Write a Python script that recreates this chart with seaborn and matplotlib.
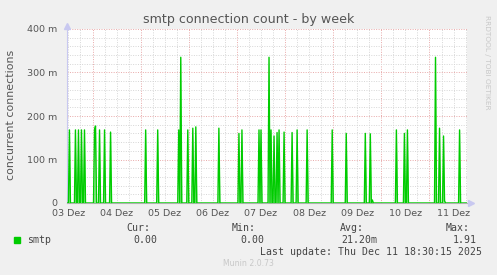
import numpy as np
import pandas as pd
import matplotlib
matplotlib.use("Agg")
import matplotlib.pyplot as plt
import matplotlib.dates as mdates
from matplotlib.ticker import MultipleLocator, FuncFormatter
import seaborn as sns

# ---------------- data ----------------
title = "smtp connection count - by week"
ylabel = "concurrent connections"
series_name = "smtp"
start_time = "2025-12-03 11:00"
end_time = "2025-12-11 18:30"
view_start = "2025-12-03 11:17"
view_end = "2025-12-11 18:42"

spike_times = [
    "2025-12-03 12:30", "2025-12-03 15:30", "2025-12-03 17:00", "2025-12-03 18:30",
    "2025-12-03 20:00", "2025-12-04 01:00", "2025-12-04 01:30", "2025-12-04 03:30",
    "2025-12-04 06:00", "2025-12-04 09:00", "2025-12-05 02:30", "2025-12-05 08:30",
    "2025-12-05 19:00", "2025-12-05 20:00", "2025-12-05 23:30", "2025-12-06 02:00",
    "2025-12-06 03:30", "2025-12-06 15:00", "2025-12-07 01:00", "2025-12-07 02:30",
    "2025-12-07 11:00", "2025-12-07 12:00", "2025-12-07 16:00", "2025-12-07 17:00",
    "2025-12-07 18:30", "2025-12-07 20:00", "2025-12-07 21:00", "2025-12-07 23:30",
    "2025-12-08 03:30", "2025-12-08 06:00", "2025-12-08 11:00", "2025-12-08 23:30",
    "2025-12-09 06:30", "2025-12-09 16:00", "2025-12-09 18:30", "2025-12-09 19:30",
    "2025-12-10 07:30", "2025-12-10 11:30", "2025-12-10 13:00", "2025-12-11 03:00",
    "2025-12-11 05:00", "2025-12-11 07:00", "2025-12-11 07:30", "2025-12-11 15:00",
]
spike_values = [
    0.168, 0.168, 0.168, 0.168,
    0.168, 0.168, 0.177, 0.168,
    0.168, 0.163, 0.168, 0.168,
    0.168, 0.335, 0.168, 0.172,
    0.175, 0.172, 0.160, 0.168,
    0.168, 0.168, 0.335, 0.168,
    0.154, 0.162, 0.168, 0.163,
    0.162, 0.168, 0.168, 0.168,
    0.160, 0.160, 0.159, 0.007,
    0.168, 0.160, 0.168, 0.335,
    0.172, 0.154, 0.005, 0.168,
]

day_labels = ["03 Dez", "04 Dez", "05 Dez", "06 Dez", "07 Dez",
              "08 Dez", "09 Dez", "10 Dez", "11 Dez"]

legend_headers = ["Cur:", "Min:", "Avg:", "Max:"]
legend_values = ["0.00", "0.00", "21.20m", "1.91"]
last_update = "Last update: Thu Dec 11 18:30:15 2025"
munin_version = "Munin 2.0.73"
side_text = "RRDTOOL / TOBI OETIKER"

# ---------------- build series ----------------
times = pd.date_range(start_time, end_time, freq="30min")
df = pd.DataFrame({"time": times, "value": 0.0})
df = df.set_index("time")
for t, v in zip(pd.to_datetime(spike_times), spike_values):
    df.loc[t, "value"] = v
df = df.sort_index().reset_index()

# ---------------- figure ----------------
sns.set_style("white")
plt.rcParams["font.family"] = ["DejaVu Sans"]
W, H = 497, 275
fig = plt.figure(figsize=(W / 100, H / 100), dpi=100, facecolor="#F0F0F0")

left, right, top, bottom = 67, 467, 29, 203
ax = fig.add_axes([left / W, 1 - bottom / H, (right - left) / W, (bottom - top) / H])
ax.set_facecolor("white")

green = "#00CC00"
ax.fill_between(df["time"], 0, df["value"], color="#66DD66", alpha=0.6, lw=0, zorder=3)
sns.lineplot(data=df, x="time", y="value", ax=ax, color=green, lw=1.0, zorder=4,
             legend=False)

ax.set_xlim(pd.Timestamp(view_start), pd.Timestamp(view_end))
ax.set_ylim(0, 0.4)

# grids
red_grid = "#E8A8A8"
grey_grid = "#D6D6D6"
ax.xaxis.set_major_locator(mdates.HourLocator(byhour=[0]))
ax.xaxis.set_minor_locator(mdates.HourLocator(byhour=[6, 12, 18]))
ax.xaxis.set_major_formatter(FuncFormatter(lambda x, p: ""))

label_map = {}
for i, lab in enumerate(day_labels):
    d = pd.Timestamp("2025-12-03 12:00") + pd.Timedelta(days=i)
    label_map[d.strftime("%Y-%m-%d %H")] = lab


def minor_fmt(x, p):
    d = mdates.num2date(x).replace(tzinfo=None)
    return label_map.get(pd.Timestamp(d).round("h").strftime("%Y-%m-%d %H"), "")


ax.xaxis.set_minor_formatter(FuncFormatter(minor_fmt))

ax.yaxis.set_major_locator(MultipleLocator(0.1))
ax.yaxis.set_minor_locator(MultipleLocator(0.02))
ax.yaxis.set_major_formatter(FuncFormatter(
    lambda v, p: "0" if abs(v) < 1e-9 else f"{int(round(v * 1000))} m"))

ax.grid(which="major", color=red_grid, linestyle=(0, (1, 1.5)), lw=0.7, zorder=1)
ax.grid(which="minor", color=grey_grid, linestyle=(0, (1, 1.5)), lw=0.7, zorder=0)
ax.set_axisbelow(True)

ax.tick_params(axis="x", which="minor", length=0, labelsize=6.8, labelcolor="#555555", pad=4)
ax.tick_params(axis="x", which="major", length=2, color="#E08080", pad=0)
ax.tick_params(axis="y", which="major", length=2, color="#999999", labelsize=6.8,
               labelcolor="#555555", pad=5)
ax.tick_params(axis="y", which="minor", length=1.5, color="#BBBBBB")

for s in ["top", "right"]:
    ax.spines[s].set_visible(False)
ax.spines["left"].set_color("#C8C8F0")
ax.spines["left"].set_linewidth(0.8)
ax.spines["bottom"].set_color("#B0B0B0")
ax.spines["bottom"].set_linewidth(0.8)

# axis arrows
ax.plot([0], [1.02], marker="^", ms=4, color="#C8C8F0", transform=ax.transAxes,
        clip_on=False, zorder=5)
ax.plot([1.01], [0], marker=">", ms=4, color="#C8C8F0", transform=ax.transAxes,
        clip_on=False, zorder=5)

ax.set_xlabel("")
ax.set_ylabel("")

# texts
def fx(px):
    return px / W


def fy(py):
    return 1 - py / H


fig.text(fx(248.5), fy(20), title, ha="center", va="center", fontsize=9.1, color="#555555")
fig.text(fx(11), fy(114.5), ylabel, ha="center", va="center", rotation=90,
         fontsize=7.9, color="#555555")
fig.text(fx(487), fy(15), side_text, ha="center", va="top", rotation=270,
         fontsize=5.3, color="#C8C8C8")

mono = "DejaVu Sans Mono"
fs = 7.1
fig.patches.append(plt.Rectangle((fx(14), fy(243)), 6 / W, 6 / H, transform=fig.transFigure,
                                 color=green, figure=fig))
fig.text(fx(27), fy(240), series_name, ha="left", va="center", family=mono, fontsize=fs,
         color="#444444")
header_right = [150.5, 256, 363.5, 470]
value_right = [157, 264, 377, 477]
for h, v, hr, vr in zip(legend_headers, legend_values, header_right, value_right):
    fig.text(fx(hr), fy(228), h, ha="right", va="center", family=mono, fontsize=fs,
             color="#444444")
    fig.text(fx(vr), fy(240), v, ha="right", va="center", family=mono, fontsize=fs,
             color="#444444")
fig.text(fx(482), fy(251.7), last_update, ha="right", va="center", family=mono,
         fontsize=fs, color="#444444")
fig.text(fx(248), fy(263), munin_version, ha="center", va="center", fontsize=5.6,
         color="#C8C8C8")

fig.savefig("out.png", dpi=100, facecolor=fig.get_facecolor())
